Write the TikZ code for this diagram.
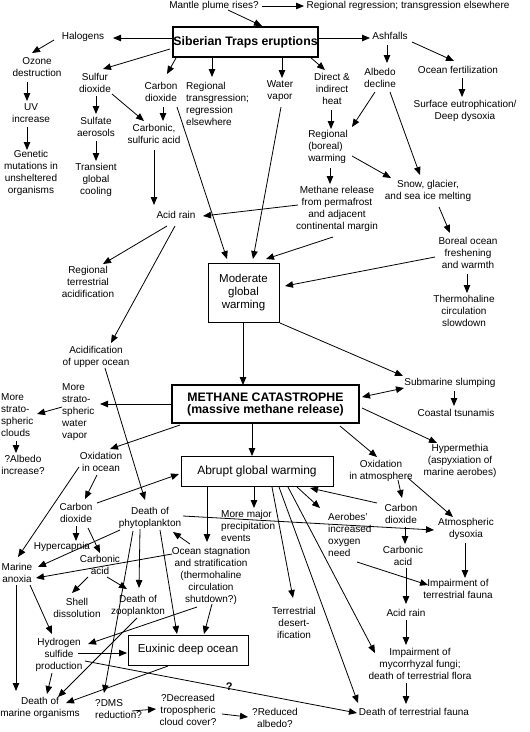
\documentclass[tikz,border=0pt]{standalone}
\usepackage{fontspec}
\setmainfont{Liberation Sans}
\usetikzlibrary{arrows.meta,calc}
\newcommand\myarrow[5][arr]{\draw[#1] ($(#2)+(#3)$) -- ($(#4)+(#5)$);}
\begin{document}
\begin{tikzpicture}[x=1pt,y=-1pt,
  lbl/.style={inner sep=0pt, align=center, font=\fontsize{10}{12}\selectfont},
  lbll/.style={lbl, align=left},
  box/.style={draw, line width=0.9pt, inner sep=0pt, align=center},
  bigbox/.style={draw, line width=2.6pt, inner sep=0pt, align=center, font=\bfseries\fontsize{12.3}{12}\selectfont},
  arr/.style={line width=0.8pt, -{Triangle[length=8pt,width=6.5pt]}},
  darr/.style={line width=0.8pt, {Triangle[length=8pt,width=6.5pt]}-{Triangle[length=8pt,width=6.5pt]}}]
\fill[white] (0,0) rectangle (530,732);
\useasboundingbox (0,0) rectangle (530,732);
% ---- top part
\node[lbl] (mantle) at (214,6) {Mantle plume rises?};
\node[lbl] (regreg) at (408,6) {Regional regression; transgression elsewhere};
\node[bigbox, minimum width=145, minimum height=30] (sib) at (245.5,42) {Siberian Traps eruptions};
\node[lbl] (halo) at (83,37) {Halogens};
\node[lbl] (ozone) at (37,67) {Ozone\\destruction};
\node[lbl] (uv) at (31,113) {UV\\increase};
\node[lbl] (genetic) at (31,173) {Genetic\\mutations in\\unsheltered\\organisms};
\node[lbl] (so2) at (95,83) {Sulfur\\dioxide};
\node[lbl] (sulfate) at (96,127) {Sulfate\\aerosols};
\node[lbl] (transient) at (96,180) {Transient\\global\\cooling};
\node[lbl] (co2a) at (161,92) {Carbon\\dioxide};
\node[lbl] (carbsulf) at (154,134) {Carbonic,\\sulfuric acid};
\node[lbll, anchor=west] (regtrans) at (186,104) {Regional\\transgression;\\regression\\elsewhere};
\node[lbl] (water) at (280,91) {Water\\vapor};
\node[lbl] (heat) at (332,89) {Direct \&\\indirect\\heat};
\node[lbl] (ash) at (390,36) {Ashfalls};
\node[lbl] (albedo) at (380,78) {Albedo\\decline};
\node[lbl] (oceanfert) at (458,70) {Ocean fertilization};
\node[lbl] (eutro) at (465,111) {Surface eutrophication/\\Deep dysoxia};
\node[lbll] (boreal) at (328,147) {Regional\\(boreal)\\warming};
\node[lbl] (snow) at (428,191) {Snow, glacier,\\and sea ice melting};
\node[lbl] (methrel) at (337,209) {Methane release\\from permafrost\\and adjacent\\continental margin};
\node[lbl] (acidrain1) at (176,215) {Acid rain};
\node[lbl] (regterr) at (88,282) {Regional\\terrestrial\\acidification};
\node[lbl] (borealocean) at (468,253) {Boreal ocean\\freshening\\and warmth};
\node[lbl] (thermo) at (464,311) {Thermohaline\\circulation\\slowdown};
\node[box, minimum width=71, minimum height=59, font=\fontsize{11.5}{13}\selectfont] (mod) at (243.5,292.5) {Moderate\\global\\warming};
\node[lbl] (acidup) at (96,357) {Acidification\\of upper ocean};
% ---- middle
\node[bigbox, minimum width=187, minimum height=38] (meth) at (265.5,404) {METHANE CATASTROPHE\\(massive methane release)};
\node[lbl] (slump) at (450,383) {Submarine slumping};
\node[lbl] (tsunami) at (456,413) {Coastal tsunamis};
\node[lbl] (hyper) at (460,461) {Hypermethia\\(aspyxiation of\\marine aerobes)};
\node[lbl] (oxatm) at (381,471) {Oxidation\\in atmosphere};
\node[lbll, anchor=west] (strwv) at (62,412) {More\\strato-\\spheric\\water\\vapor};
\node[lbll, anchor=west] (strcl) at (1,415) {More\\strato-\\spheric\\clouds};
\node[lbl] (albinc) at (23,465) {?Albedo\\increase?};
\node[lbl] (oxocean) at (101,462) {Oxidation\\in ocean};
\node[box, minimum width=152, minimum height=30, font=\fontsize{12}{14}\selectfont] (abrupt) at (257,471) {Abrupt global warming};
% ---- bottom
\node[lbl] (co2o) at (76,513) {Carbon\\dioxide};
\node[lbl] (phyto) at (150,518) {Death of\\phytoplankton};
\node[lbl] (hypercap) at (62,547) {Hypercapnia};
\node[lbl] (carbo) at (100,565) {Carbonic\\acid};
\node[lbl] (stag) at (211,576) {Ocean stagnation\\and stratification\\(thermohaline\\circulation\\shutdown?)};
\node[lbl] (anoxia) at (17,573) {Marine\\anoxia};
\node[lbll, anchor=west] (precip) at (221,526) {More major\\precipitation\\events};
\node[lbll, anchor=west] (aerobes) at (328,535) {Aerobes'\\increased\\oxygen\\need};
\node[lbl] (co2at) at (401,514) {Carbon\\dioxide};
\node[lbl] (dysox) at (466,529) {Atmospheric\\dysoxia};
\node[lbl] (carbat) at (403,556) {Carbonic\\acid};
\node[lbl] (impfauna) at (458,589) {Impairment of\\terrestrial fauna};
\node[lbl] (acidrain2) at (406,613) {Acid rain};
\node[lbl] (mycor) at (420,664) {Impairment of\\mycorrhyzal fungi;\\death of terrestrial flora};
\node[lbl] (desert) at (294,623) {Terrestrial\\desert-\\ification};
\node[lbl] (deathfauna) at (414,712) {Death of terrestrial fauna};
\node[lbl] (h2s) at (59,655) {Hydrogen\\sulfide\\production};
\node[lbl] (deathmar) at (40,708) {Death of\\marine organisms};
\node[lbl] (shell) at (77,608) {Shell\\dissolution};
\node[lbl] (zoo) at (138,606) {Death of\\zooplankton};
\node[box, minimum width=120, minimum height=30, font=\fontsize{11.5}{13}\selectfont] (eux) at (188,650) {Euxinic deep ocean};
\node[lbll, anchor=west] (dms) at (95,709) {?DMS\\reduction?};
\node[lbl] (decr) at (188,710) {?Decreased\\tropospheric\\cloud cover?};
\node[lbl] (redalb) at (275,718) {?Reduced\\albedo?};
% ---- connectors, top
\myarrow{mantle}{14,4}{sib}{16.5,-16}
\myarrow{mantle}{48,0}{regreg}{-104,0}
\myarrow{sib}{-72.5,-4}{halo}{30,1}
\myarrow{halo}{-29,3}{ozone}{-5,-14}
\myarrow{ozone}{-10,15}{uv}{-4,-12}
\myarrow{uv}{-4,14}{genetic}{-4,-23}
\myarrow{sib}{-75.5,7}{so2}{8,-14}
\myarrow{so2}{1,13}{sulfate}{0,-13}
\myarrow{sulfate}{0,14}{transient}{0,-19}
\myarrow{sib}{-69.5,16}{co2a}{6,-18}
\myarrow{so2}{17,11}{carbsulf}{-10,-13}
\myarrow{co2a}{2,15}{carbsulf}{9,-13}
\myarrow{carbsulf}{0,16}{acidrain1}{-22,-10}
\myarrow{sib}{-33.5,15}{regtrans.west}{26,-27}
\myarrow{sib}{36.5,15}{water}{2,-13}
\myarrow{sib}{64.5,15}{heat}{-7,-19}
\myarrow{sib}{72.5,-4}{ash}{-20,2}
\myarrow{ash}{-3,9}{albedo}{7,-15}
\myarrow{ash}{22,6}{oceanfert}{-4,-9}
\myarrow{oceanfert}{4,8}{eutro}{-3,-14}
\myarrow{heat}{-1,21}{boreal}{3,-18}
\myarrow{albedo}{-5,14}{boreal}{24,-20}
\myarrow{boreal}{24,9}{snow}{-37,-13}
\myarrow{albedo}{10,14}{snow}{-8,-16}
\myarrow{boreal}{2,21}{methrel}{-7,-25}
\myarrow{methrel}{-39,-4}{acidrain1}{27,1}
\myarrow{methrel}{-4,28}{mod}{22.5,-33.5}
\myarrow{snow}{11,16}{borealocean}{-18,-20}
\myarrow{borealocean}{-33,4}{mod}{41.5,-6.5}
\myarrow{borealocean}{-1,21}{thermo}{3,-18}
\myarrow{co2a}{16,15}{mod}{-16.5,-33.5}
\myarrow{water}{1,16}{mod}{9.5,-33.5}
\myarrow{acidrain1}{-9,11}{regterr}{15,-18}
\myarrow{acidrain1}{-1,11}{acidup}{15,-14}
% ---- connectors, middle
\myarrow{mod}{-0.5,29.5}{meth}{-22.5,-19}
\myarrow{mod}{36.5,30.5}{slump}{-47,-7}
\myarrow[darr]{meth}{96.5,-7}{slump}{-46,5}
\myarrow{slump}{4,8}{tsunami}{-2,-7}
\myarrow{meth}{96.5,4}{hyper}{-23,-18}
\myarrow{meth}{74.5,22}{oxatm}{-4,-14}
\myarrow{meth}{-93.5,0}{strwv.west}{38,-8}
\myarrow{strwv.west}{0,-5}{strcl.west}{36,-1}
\myarrow{strcl.west}{15,26}{albinc}{-7,-12}
\myarrow{meth}{-85.5,21}{oxocean}{9,-13}
\myarrow{meth}{-13.5,19}{abrupt}{-5,-15}
% ---- connectors, bottom
\myarrow{oxocean}{-4,13}{co2o}{9,-14}
\myarrow{oxocean}{-22,5}{anoxia}{1,-16}
\myarrow{co2o}{21,-10}{abrupt}{-78,3}
\myarrow{acidup}{9,11}{phyto}{-5,-18}
\myarrow{co2o}{0,13}{hypercap}{14,-6}
\myarrow{co2o}{12,15}{carbo}{0,-12}
\myarrow{abrupt}{-50,16}{stag}{-4,-34}
\myarrow{stag}{-21,-32}{phyto}{23,14}
\myarrow{stag}{-39,-22}{anoxia}{19,5}
\myarrow{phyto}{-30,12}{anoxia}{21,-6}
\myarrow{phyto}{33,-2}{dysox}{-32,1}
\myarrow{abrupt}{-3,16}{precip.west}{33,-18}
\myarrow{abrupt}{40,16}{aerobes.west}{-8,-27}
\myarrow{oxatm}{17,9}{co2at}{1,-16}
\myarrow{co2at}{-24,-11}{abrupt}{53,17}
\myarrow{oxatm}{27,7}{dysox}{-13,-12}
\myarrow{co2at}{4,13}{carbat}{2,-12}
\myarrow{dysox}{-1,14}{impfauna}{7,-11}
\myarrow{aerobes.west}{29,27}{impfauna}{-30,-4}
\myarrow{carbat}{3,12}{acidrain2}{0,-9}
\myarrow{acidrain2}{0,7}{mycor}{-14,-19}
\myarrow{abrupt}{15,16}{desert}{-1,-25}
\myarrow{abrupt}{22,16}{deathfauna}{-56,-9}
\myarrow{abrupt}{31,16}{mycor}{-45,-11}
\myarrow{mycor}{-14,19}{deathfauna}{-8,-8}
\draw[arr] ($(h2s)+(26,6)$) -- node[pos=0.53, yshift=2pt, inner sep=0pt, font=\bfseries\fontsize{11}{12}\selectfont] (qm) {?} ($(deathfauna)+(-57,1)$);
\myarrow{anoxia}{13,12}{h2s}{-7,-21}
\myarrow{h2s}{19,-2}{eux}{-61,3}
\myarrow{h2s}{-7,18}{deathmar}{7,-14}
\myarrow{anoxia}{-1,12}{deathmar}{-24,-17}
\myarrow{carbo}{-12,12}{shell}{-5,-15}
\myarrow{carbo}{7,12}{zoo}{-11,-17}
\myarrow{phyto}{-10,11}{zoo}{1,-18}
\myarrow{phyto}{-17,13}{dms.west}{9,-16}
\myarrow{phyto}{10,12}{eux}{-11,-16}
\myarrow{stag}{1,28}{eux}{16,-16}
\myarrow{stag}{-14,31}{h2s}{29,-11}
\myarrow{zoo}{-1,12}{deathmar}{18,-11}
\myarrow{eux}{-20,16}{deathmar}{26,-5}
\myarrow{dms.west}{37,2}{decr}{-32,-1}
\myarrow{decr}{34,4}{redalb}{-27,-1}
\end{tikzpicture}
\end{document}
